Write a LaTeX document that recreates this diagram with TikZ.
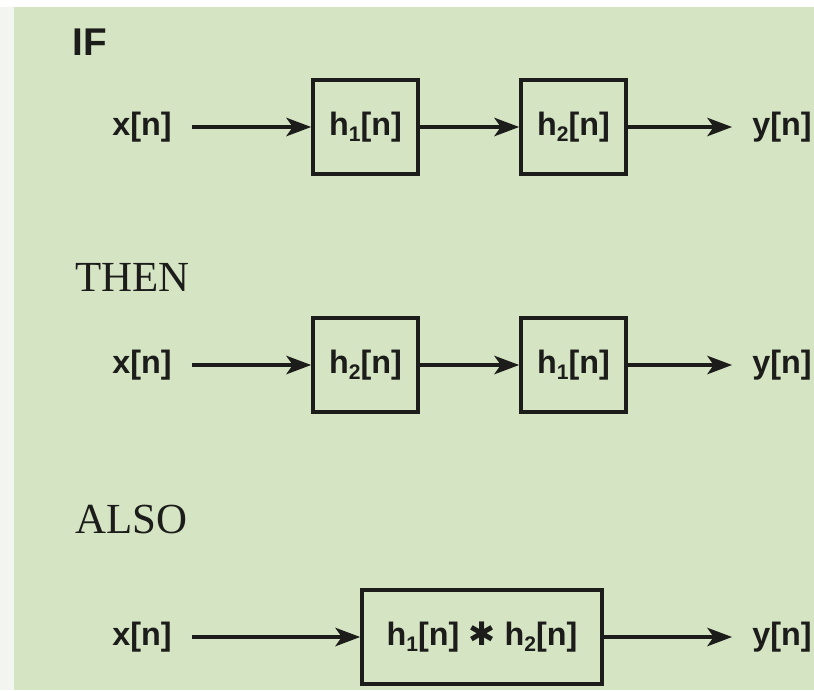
\documentclass[tikz,border=0pt]{standalone}
\usepackage{fontspec}
\setmainfont{Liberation Serif}
\newfontfamily\sigfont{Liberation Sans}
\newfontfamily\symfont{DejaVu Sans}
\usetikzlibrary{arrows.meta}
\definecolor{paper}{HTML}{D5E4C3}
\definecolor{margin}{HTML}{F3F5F0}
\definecolor{ink}{HTML}{1C1C1A}
\newcommand{\hsub}[1]{h\raisebox{-0.35ex}{\fontsize{15}{15}\selectfont #1}[n]}

\begin{document}
\begin{tikzpicture}[x=0.25mm,y=-0.25mm,
    sig/.style={font={\sigfont\bfseries\fontsize{23}{26}\selectfont},text=ink,inner xsep=5mm,inner ysep=0pt},
    blk/.style={sig,draw=ink,line width=2.6pt,inner sep=0pt,minimum width=26.25mm,minimum height=23.5mm},
    flow/.style={draw=ink,line width=2.4pt,-{Stealth[length=6.2mm,width=4.6mm,inset=1.6mm]}},
    title/.style={anchor=base west,text=ink,inner sep=0pt,font=\fontsize{30.5}{34}\selectfont}]
    \useasboundingbox (0,0) rectangle (814,690);
    \fill[white] (0,0) rectangle (814,690);
    \fill[margin] (0,7) rectangle (14,690);
    \fill[paper] (14,7) rectangle (814,690);

    \node[title,font={\sigfont\bfseries\fontsize{27.5}{30}\selectfont}] (tif) at (72,55) {IF};
    \node[title] (tthen) at (75,291) {THEN};
    \node[title] (talso) at (75,533) {ALSO};

    \foreach \r/\yy/\p/\q in {1/127/1/2, 2/365/2/1} {
      \node[sig] (x\r) at (142,\yy) {x[n]};
      \node[blk] (a\r) at (365.5,\yy) {\hsub{\p}};
      \node[blk] (b\r) at (573.5,\yy) {\hsub{\q}};
      \node[sig] (y\r) at (782,\yy) {y[n]};
      \draw[flow] (x\r) -- (a\r);
      \draw[flow] (a\r) -- (b\r);
      \draw[flow] (b\r) -- (y\r);
    }

    \node[sig] (x3) at (142,637) {x[n]};
    \node[blk,minimum width=60mm] (c3) at (482,637) {\hsub{1} {\symfont\mdseries ✱} \hsub{2}};
    \node[sig] (y3) at (782,637) {y[n]};
    \draw[flow] (x3) -- (c3);
    \draw[flow] (c3) -- (y3);
  \end{tikzpicture}
\end{document}
